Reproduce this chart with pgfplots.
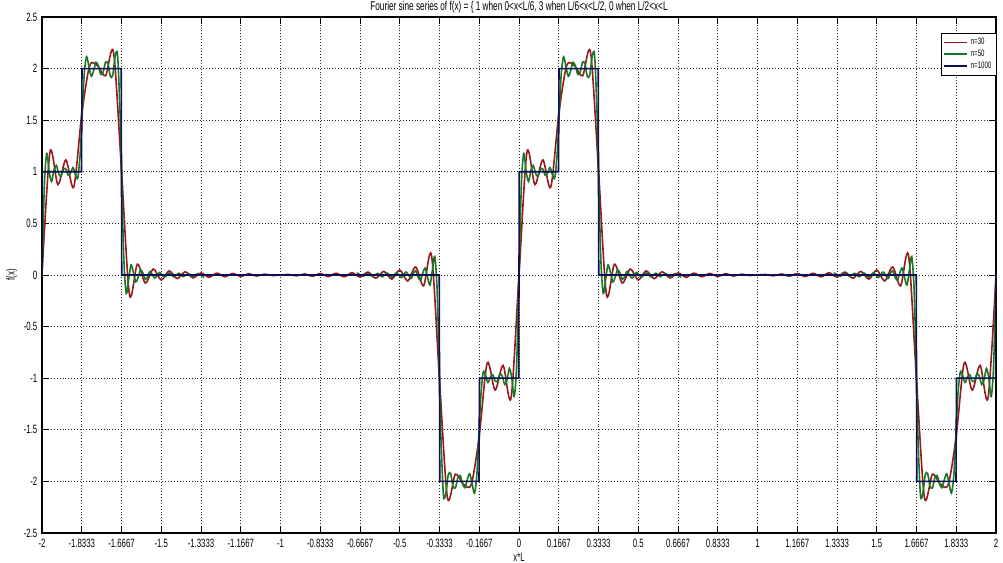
\documentclass[border=0pt]{standalone}
\usepackage{pgfplots}
\pgfplotsset{compat=1.18}
\usepackage{fontspec}
\setmainfont{Liberation Sans}[FakeStretch=0.65]
\definecolor{c30}{RGB}{150,25,30}
\definecolor{c50}{RGB}{25,120,35}
\definecolor{c1000}{RGB}{15,15,85}
\begin{document}
\begin{tikzpicture}
\begin{axis}[
  scale only axis,
  width=715.5pt, height=387pt,
  xmin=-2, xmax=2, ymin=-2.5, ymax=2.5,
  xtick={-2,-1.83333,-1.66667,-1.5,-1.33333,-1.16667,-1,-0.83333,-0.66667,-0.5,-0.33333,-0.16667,0,0.16667,0.33333,0.5,0.66667,0.83333,1,1.16667,1.33333,1.5,1.66667,1.83333,2},
  xticklabels={-2,-1.8333,-1.6667,-1.5,-1.3333,-1.1667,-1,-0.8333,-0.6667,-0.5,-0.3333,-0.1667,0,0.1667,0.3333,0.5,0.6667,0.8333,1,1.1667,1.3333,1.5,1.6667,1.8333,2},
  ytick={-2.5,-2,-1.5,-1,-0.5,0,0.5,1,1.5,2,2.5},
  yticklabels={-2.5,-2,-1.5,-1,-0.5,0,0.5,1,1.5,2,2.5},
  tick label style={font=\fontsize{9}{10}\selectfont},
  xticklabel style={yshift=-1pt},
  tick align=inside, tick pos=both, major tick length=5pt,
  tick style={black, line width=0.6pt},
  grid=major,
  grid style={black!85, line width=0.6pt, dash pattern=on 0.7pt off 1.5pt},
  axis line style={black, line width=0.8pt},
  title={Fourier sine series of f(x) = \{ 1 when 0<x<L/6, 3 when L/6<x<L/2, 0 when L/2<x<L},
  title style={font=\fontsize{9.5}{10}\selectfont, yshift=-7pt},
  xlabel={x*L}, ylabel={f(x)},
  label style={font=\fontsize{9}{10}\selectfont},
  xlabel style={yshift=2.5pt},
  ylabel style={yshift=-2pt},
  legend style={at={(0.942,0.969)}, anchor=north west, font=\fontsize{7}{8}\selectfont,
    draw=black, line width=0.6pt, inner sep=1.5pt, row sep=-1.5pt, fill=white},
  legend cell align=left,
  legend image code/.code={\draw[#1] (0cm,0cm) -- (0.62cm,0cm);},
]
\addplot[c30, line width=1.2pt, smooth] coordinates {
(-2,0) (-1.9667,1.19) (-1.9333,0.876) (-1.9,1.115) (-1.8667,0.853) (-1.8333,1.557) (-1.8,2.028) (-1.7667,2.026) (-1.7333,1.930) (-1.7,2.158) (-1.6667,1.017)
(-1.6333,-0.19) (-1.6,0.105) (-1.5667,-0.078) (-1.5333,0.058) (-1.5,-0.048) (-1.4667,0.040) (-1.4333,-0.035) (-1.4,0.031) (-1.3667,-0.028) (-1.3333,0.020)
(-1.3,-0.022) (-1.2667,0.018) (-1.2333,-0.017) (-1.2,0.015) (-1.1667,-0.014) (-1.1333,0.012) (-1.1,-0.010) (-1.0667,0.008) (-1.0333,-0.005) (-1,0)
(-0.9667,0.005) (-0.9333,-0.008) (-0.9,0.010) (-0.8667,-0.012) (-0.8333,0.014) (-0.8,-0.015) (-0.7667,0.017) (-0.7333,-0.018) (-0.7,0.022) (-0.6667,-0.020)
(-0.6333,0.028) (-0.6,-0.031) (-0.5667,0.035) (-0.5333,-0.040) (-0.5,0.048) (-0.4667,-0.058) (-0.4333,0.078) (-0.4,-0.105) (-0.3667,0.19) (-0.3333,-1.017)
(-0.3,-2.158) (-0.2667,-1.930) (-0.2333,-2.026) (-0.2,-2.028) (-0.1667,-1.557) (-0.1333,-0.853) (-0.1,-1.115) (-0.0667,-0.876) (-0.0333,-1.19) (0,0)
(0.0333,1.19) (0.0667,0.876) (0.1,1.115) (0.1333,0.853) (0.1667,1.557) (0.2,2.028) (0.2333,2.026) (0.2667,1.930) (0.3,2.158) (0.3333,1.017)
(0.3667,-0.19) (0.4,0.105) (0.4333,-0.078) (0.4667,0.058) (0.5,-0.048) (0.5333,0.040) (0.5667,-0.035) (0.6,0.031) (0.6333,-0.028) (0.6667,0.020)
(0.7,-0.022) (0.7333,0.018) (0.7667,-0.017) (0.8,0.015) (0.8333,-0.014) (0.8667,0.012) (0.9,-0.010) (0.9333,0.008) (0.9667,-0.005) (1,0)
(1.0333,0.005) (1.0667,-0.008) (1.1,0.010) (1.1333,-0.012) (1.1667,0.014) (1.2,-0.015) (1.2333,0.017) (1.2667,-0.018) (1.3,0.022) (1.3333,-0.020)
(1.3667,0.028) (1.4,-0.031) (1.4333,0.035) (1.4667,-0.040) (1.5,0.048) (1.5333,-0.058) (1.5667,0.078) (1.6,-0.105) (1.6333,0.19) (1.6667,-1.017)
(1.7,-2.158) (1.7333,-1.930) (1.7667,-2.026) (1.8,-2.028) (1.8333,-1.557) (1.8667,-0.853) (1.9,-1.115) (1.9333,-0.876) (1.9667,-1.19) (2,0)
};
\addlegendentry{n=30}
\addplot[c50, line width=1.2pt, smooth] coordinates {
(-2,0) (-1.99,0.873) (-1.98,1.178) (-1.97,1.003) (-1.96,0.906) (-1.95,1.014) (-1.94,1.061) (-1.93,0.980) (-1.92,0.958) (-1.91,1.026) (-1.90,1.026)
(-1.89,0.967) (-1.88,0.989) (-1.87,1.041) (-1.86,0.974) (-1.85,0.942) (-1.84,1.170) (-1.8333,1.476) (-1.8233,1.934) (-1.8133,2.114) (-1.8033,2.020)
(-1.7933,1.926) (-1.7833,1.982) (-1.7733,2.061) (-1.7633,2.024) (-1.7533,1.943) (-1.7433,1.968) (-1.7333,2.063) (-1.7233,2.047) (-1.7133,1.923)
(-1.7033,1.937) (-1.6933,2.116) (-1.6833,2.136) (-1.6733,1.609) (-1.6667,1.000) (-1.6567,0.147) (-1.6467,-0.179) (-1.6367,-0.044) (-1.6267,0.098)
(-1.6167,0.026) (-1.6067,-0.067) (-1.5967,-0.021) (-1.5867,0.051) (-1.5767,0.018) (-1.5667,-0.041) (-1.5567,-0.016) (-1.5467,0.035) (-1.5267,-0.029)
(-1.5067,0.025) (-1.4867,-0.022) (-1.4667,0.020) (-1.4467,-0.018) (-1.4267,0.017) (-1.4067,-0.016) (-1.3867,0.015) (-1.3667,-0.014) (-1.3467,0.013)
(-1.3267,-0.012) (-1.3,0) (-1,0) (-0.7,0) (-0.6733,0.012) (-0.6533,-0.013) (-0.6333,0.014) (-0.6133,-0.015) (-0.5933,0.016) (-0.5733,-0.017)
(-0.5533,0.018) (-0.5333,-0.020) (-0.5133,0.022) (-0.4933,-0.025) (-0.4733,0.029) (-0.4533,-0.035) (-0.4433,0.016) (-0.4333,0.041) (-0.4233,-0.018)
(-0.4133,-0.051) (-0.4033,0.021) (-0.3933,0.067) (-0.3833,-0.026) (-0.3733,-0.098) (-0.3633,0.044) (-0.3533,0.179) (-0.3433,-0.147) (-0.3333,-1.000)
(-0.3267,-1.609) (-0.3167,-2.136) (-0.3067,-2.116) (-0.2967,-1.937) (-0.2867,-1.923) (-0.2767,-2.047) (-0.2667,-2.063) (-0.2567,-1.968) (-0.2467,-1.943)
(-0.2367,-2.024) (-0.2267,-2.061) (-0.2167,-1.982) (-0.2067,-1.926) (-0.1967,-2.020) (-0.1867,-2.114) (-0.1767,-1.934) (-0.1667,-1.476) (-0.16,-1.170)
(-0.15,-0.942) (-0.14,-0.974) (-0.13,-1.041) (-0.12,-0.989) (-0.11,-0.967) (-0.10,-1.026) (-0.09,-1.026) (-0.08,-0.958) (-0.07,-0.980) (-0.06,-1.061)
(-0.05,-1.014) (-0.04,-0.906) (-0.03,-1.003) (-0.02,-1.178) (-0.01,-0.873) (0,0)
(0.01,0.873) (0.02,1.178) (0.03,1.003) (0.04,0.906) (0.05,1.014) (0.06,1.061) (0.07,0.980) (0.08,0.958) (0.09,1.026) (0.10,1.026)
(0.11,0.967) (0.12,0.989) (0.13,1.041) (0.14,0.974) (0.15,0.942) (0.16,1.170) (0.1667,1.476) (0.1767,1.934) (0.1867,2.114) (0.1967,2.020)
(0.2067,1.926) (0.2167,1.982) (0.2267,2.061) (0.2367,2.024) (0.2467,1.943) (0.2567,1.968) (0.2667,2.063) (0.2767,2.047) (0.2867,1.923)
(0.2967,1.937) (0.3067,2.116) (0.3167,2.136) (0.3267,1.609) (0.3333,1.000) (0.3433,0.147) (0.3533,-0.179) (0.3633,-0.044) (0.3733,0.098)
(0.3833,0.026) (0.3933,-0.067) (0.4033,-0.021) (0.4133,0.051) (0.4233,0.018) (0.4333,-0.041) (0.4433,-0.016) (0.4533,0.035) (0.4733,-0.029)
(0.4933,0.025) (0.5133,-0.022) (0.5333,0.020) (0.5533,-0.018) (0.5733,0.017) (0.5933,-0.016) (0.6133,0.015) (0.6333,-0.014) (0.6533,0.013)
(0.6733,-0.012) (0.7,0) (1,0) (1.3,0) (1.3267,0.012) (1.3467,-0.013) (1.3667,0.014) (1.3867,-0.015) (1.4067,0.016) (1.4267,-0.017)
(1.4467,0.018) (1.4667,-0.020) (1.4867,0.022) (1.5067,-0.025) (1.5267,0.029) (1.5467,-0.035) (1.5567,0.016) (1.5667,0.041) (1.5767,-0.018)
(1.5867,-0.051) (1.5967,0.021) (1.6067,0.067) (1.6167,-0.026) (1.6267,-0.098) (1.6367,0.044) (1.6467,0.179) (1.6567,-0.147) (1.6667,-1.000)
(1.6733,-1.609) (1.6833,-2.136) (1.6933,-2.116) (1.7033,-1.937) (1.7133,-1.923) (1.7233,-2.047) (1.7333,-2.063) (1.7433,-1.968) (1.7533,-1.943)
(1.7633,-2.024) (1.7733,-2.061) (1.7833,-1.982) (1.7933,-1.926) (1.8033,-2.020) (1.8133,-2.114) (1.8233,-1.934) (1.8333,-1.476) (1.84,-1.170)
(1.85,-0.942) (1.86,-0.974) (1.87,-1.041) (1.88,-0.989) (1.89,-0.967) (1.90,-1.026) (1.91,-1.026) (1.92,-0.958) (1.93,-0.980) (1.94,-1.061)
(1.95,-1.014) (1.96,-0.906) (1.97,-1.003) (1.98,-1.178) (1.99,-0.873) (2,0)
};
\addlegendentry{n=50}
\addplot[c1000, line width=1.2pt] coordinates {
(-2,0) (-1.999,1) (-1.8343,1) (-1.8323,2) (-1.6677,2) (-1.6657,0) (-0.3343,0) (-0.3323,-2) (-0.1677,-2) (-0.1657,-1) (-0.001,-1) (0,0)
(0.001,1) (0.1657,1) (0.1677,2) (0.3323,2) (0.3343,0) (1.6657,0) (1.6677,-2) (1.8323,-2) (1.8343,-1) (1.999,-1) (2,0)
};
\addlegendentry{n=1000}
\coordinate (sw) at (rel axis cs:0,0);
\coordinate (ne) at (rel axis cs:1,1);
\end{axis}
\pgfresetboundingbox
\path ([shift={(-31.5pt,-22.5pt)}]sw) rectangle ([shift={(5.25pt,12.75pt)}]ne);
\end{tikzpicture}
\end{document}
